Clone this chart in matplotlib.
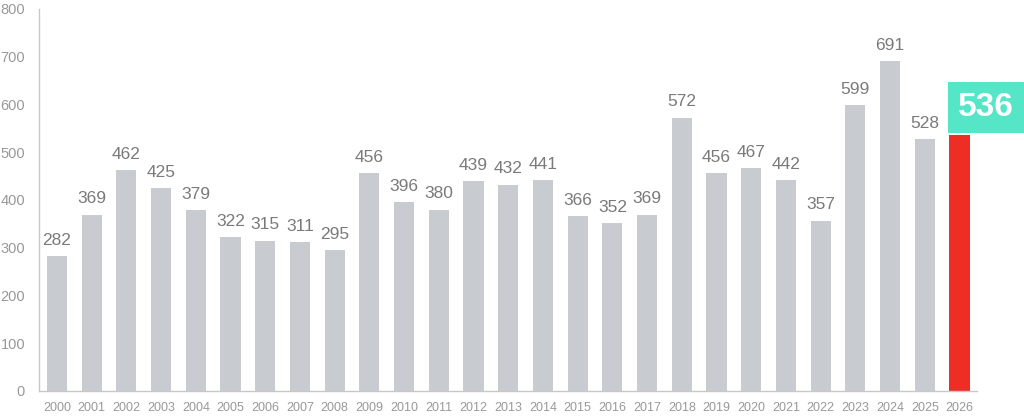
import matplotlib.pyplot as plt

years = [str(y) for y in range(2000, 2027)]
values = [282, 369, 462, 425, 379, 322, 315, 311, 295, 456, 396, 380, 439, 432,
          441, 366, 352, 369, 572, 456, 467, 442, 357, 599, 691, 528, 536]
highlight_value = 536

plt.rcParams['font.family'] = ['Liberation Sans', 'DejaVu Sans']

fig = plt.figure(figsize=(10.24, 4.18), dpi=100)
ax = fig.add_axes([0.038, 0.0646, 0.916, 0.914])

colors = ['#c8cbcf'] * (len(values) - 1) + ['#ee2e24']
x = list(range(len(values)))
ax.bar(x, values, width=0.58, color=colors)

for xi, v in zip(x[:-1], values[:-1]):
    ax.annotate(str(v), (xi, v), xytext=(0, 6), textcoords='offset points',
                ha='center', va='bottom', fontsize=12.5, color='#7a7a7a')

# highlighted last value
ax.annotate(str(highlight_value), (x[-1], values[-1]), xytext=(19, 20),
            textcoords='offset points', ha='center', va='center',
            fontsize=24, fontweight='bold', color='white', annotation_clip=False,
            bbox=dict(boxstyle='square,pad=0.3', fc='#55e6c8', ec='none'))

ax.set_xlim(-0.52, len(values) - 0.5)
ax.set_ylim(0, 800)
ax.set_yticks(range(0, 801, 100))
ax.set_xticks(x)
ax.set_xticklabels(years)
ax.tick_params(axis='both', length=0, colors='#999999')
ax.tick_params(axis='y', pad=10, labelsize=10.5)
ax.tick_params(axis='x', pad=8, labelsize=9)
for s in ['top', 'right']:
    ax.spines[s].set_visible(False)
for s in ['left', 'bottom']:
    ax.spines[s].set_color('#c8c8c8')
    ax.spines[s].set_linewidth(1.0)

fig.savefig('out.png', dpi=100)
